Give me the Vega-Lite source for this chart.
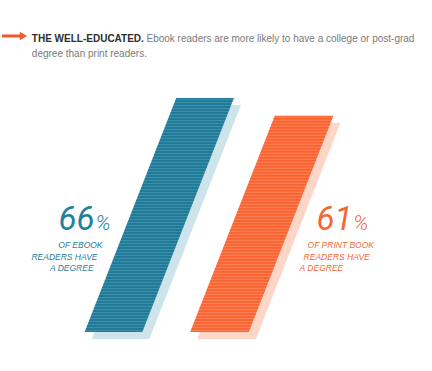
{
  "$schema": "https://vega.github.io/schema/vega-lite/v6.json",
  "width": 432,
  "height": 371,
  "autosize": {"type": "fit", "contains": "padding"},
  "padding": 0,
  "background": "#ffffff",
  "config": {"view": {"stroke": null}},
  "datasets": {
    "bars": [
      {"group": "ebook", "level": 0, "left": 19.21, "right": 32.64},
      {"group": "ebook", "level": 66, "left": 40.51, "right": 53.94},
      {"group": "print", "level": 0, "left": 43.75, "right": 57.41},
      {"group": "print", "level": 61, "left": 63.43, "right": 77.08}
    ],
    "labels": [
      {"role": "headBold", "group": "none", "text": "THE WELL-EDUCATED.", "x": 6.94, "y": 81.8},
      {"role": "head", "group": "none", "text": "Ebook readers are more likely to have a college or post-grad", "x": 33.6, "y": 81.8},
      {"role": "head", "group": "none", "text": "degree than print readers.", "x": 6.94, "y": 77.57},
      {"role": "big", "group": "ebook", "text": "66", "x": 21.53, "y": 28.77},
      {"role": "pct", "group": "ebook", "text": "%", "x": 21.76, "y": 28.77},
      {"role": "big", "group": "print", "text": "61", "x": 81.48, "y": 28.77},
      {"role": "pct", "group": "print", "text": "%", "x": 81.71, "y": 28.77},
      {"role": "smallL", "group": "ebook", "text": "OF EBOOK", "x": 23.38, "y": 23.7},
      {"role": "smallL", "group": "ebook", "text": "READERS HAVE", "x": 22.22, "y": 20.31},
      {"role": "smallL", "group": "ebook", "text": "A DEGREE", "x": 21.3, "y": 17.21},
      {"role": "smallR", "group": "print", "text": "OF PRINT BOOK", "x": 71.06, "y": 23.7},
      {"role": "smallR", "group": "print", "text": "READERS HAVE", "x": 70.14, "y": 20.31},
      {"role": "smallR", "group": "print", "text": "A DEGREE", "x": 69.21, "y": 17.21}
    ],
    "arrow": [{"x": 0, "x2": 4.4, "y": 83.5, "head": 4.98}]
  },
  "layer": [
    {
      "data": {"name": "bars"},
      "transform": [{"filter": "datum.group === 'ebook'"}],
      "mark": {"type": "area", "orient": "horizontal", "color": "#cde4ea", "xOffset": 7, "x2Offset": 7, "yOffset": 7},
      "encoding": {
        "y": {"field": "level", "type": "quantitative", "scale": {"domain": [-11, 93.65], "nice": false, "zero": false}, "axis": null},
        "x": {"field": "left", "type": "quantitative", "scale": {"domain": [0, 100], "nice": false, "zero": false}, "axis": null},
        "x2": {"field": "right"}
      }
    },
    {
      "data": {"name": "bars"},
      "transform": [{"filter": "datum.group === 'print'"}],
      "mark": {"type": "area", "orient": "horizontal", "color": "#fed6c7", "xOffset": 7, "x2Offset": 7, "yOffset": 7},
      "encoding": {
        "y": {"field": "level", "type": "quantitative", "axis": null},
        "x": {"field": "left", "type": "quantitative", "axis": null},
        "x2": {"field": "right"}
      }
    },
    {
      "data": {"name": "bars"},
      "transform": [{"filter": "datum.group === 'ebook'"}],
      "mark": {"type": "area", "orient": "horizontal", "color": {"gradient": "linear", "x1": 0, "y1": 0, "x2": 0, "y2": 1.28205, "stops": [
        {"offset": 0, "color": "#13708f"}, {"offset": 0.005, "color": "#3d90aa"}, {"offset": 0.01, "color": "#13708f"}, {"offset": 0.015, "color": "#3d90aa"}, {"offset": 0.02, "color": "#13708f"}, {"offset": 0.025, "color": "#3d90aa"}, {"offset": 0.03, "color": "#13708f"}, {"offset": 0.035, "color": "#3d90aa"}, {"offset": 0.04, "color": "#13708f"}, {"offset": 0.045, "color": "#3d90aa"},
        {"offset": 0.05, "color": "#13708f"}, {"offset": 0.055, "color": "#3d90aa"}, {"offset": 0.06, "color": "#13708f"}, {"offset": 0.065, "color": "#3d90aa"}, {"offset": 0.07, "color": "#13708f"}, {"offset": 0.075, "color": "#3d90aa"}, {"offset": 0.08, "color": "#13708f"}, {"offset": 0.085, "color": "#3d90aa"}, {"offset": 0.09, "color": "#13708f"}, {"offset": 0.095, "color": "#3d90aa"},
        {"offset": 0.1, "color": "#13708f"}, {"offset": 0.105, "color": "#3d90aa"}, {"offset": 0.11, "color": "#13708f"}, {"offset": 0.115, "color": "#3d90aa"}, {"offset": 0.12, "color": "#13708f"}, {"offset": 0.125, "color": "#3d90aa"}, {"offset": 0.13, "color": "#13708f"}, {"offset": 0.135, "color": "#3d90aa"}, {"offset": 0.14, "color": "#13708f"}, {"offset": 0.145, "color": "#3d90aa"},
        {"offset": 0.15, "color": "#13708f"}, {"offset": 0.155, "color": "#3d90aa"}, {"offset": 0.16, "color": "#13708f"}, {"offset": 0.165, "color": "#3d90aa"}, {"offset": 0.17, "color": "#13708f"}, {"offset": 0.175, "color": "#3d90aa"}, {"offset": 0.18, "color": "#13708f"}, {"offset": 0.185, "color": "#3d90aa"}, {"offset": 0.19, "color": "#13708f"}, {"offset": 0.195, "color": "#3d90aa"},
        {"offset": 0.2, "color": "#13708f"}, {"offset": 0.205, "color": "#3d90aa"}, {"offset": 0.21, "color": "#13708f"}, {"offset": 0.215, "color": "#3d90aa"}, {"offset": 0.22, "color": "#13708f"}, {"offset": 0.225, "color": "#3d90aa"}, {"offset": 0.23, "color": "#13708f"}, {"offset": 0.235, "color": "#3d90aa"}, {"offset": 0.24, "color": "#13708f"}, {"offset": 0.245, "color": "#3d90aa"},
        {"offset": 0.25, "color": "#13708f"}, {"offset": 0.255, "color": "#3d90aa"}, {"offset": 0.26, "color": "#13708f"}, {"offset": 0.265, "color": "#3d90aa"}, {"offset": 0.27, "color": "#13708f"}, {"offset": 0.275, "color": "#3d90aa"}, {"offset": 0.28, "color": "#13708f"}, {"offset": 0.285, "color": "#3d90aa"}, {"offset": 0.29, "color": "#13708f"}, {"offset": 0.295, "color": "#3d90aa"},
        {"offset": 0.3, "color": "#13708f"}, {"offset": 0.305, "color": "#3d90aa"}, {"offset": 0.31, "color": "#13708f"}, {"offset": 0.315, "color": "#3d90aa"}, {"offset": 0.32, "color": "#13708f"}, {"offset": 0.325, "color": "#3d90aa"}, {"offset": 0.33, "color": "#13708f"}, {"offset": 0.335, "color": "#3d90aa"}, {"offset": 0.34, "color": "#13708f"}, {"offset": 0.345, "color": "#3d90aa"},
        {"offset": 0.35, "color": "#13708f"}, {"offset": 0.355, "color": "#3d90aa"}, {"offset": 0.36, "color": "#13708f"}, {"offset": 0.365, "color": "#3d90aa"}, {"offset": 0.37, "color": "#13708f"}, {"offset": 0.375, "color": "#3d90aa"}, {"offset": 0.38, "color": "#13708f"}, {"offset": 0.385, "color": "#3d90aa"}, {"offset": 0.39, "color": "#13708f"}, {"offset": 0.395, "color": "#3d90aa"},
        {"offset": 0.4, "color": "#13708f"}, {"offset": 0.405, "color": "#3d90aa"}, {"offset": 0.41, "color": "#13708f"}, {"offset": 0.415, "color": "#3d90aa"}, {"offset": 0.42, "color": "#13708f"}, {"offset": 0.425, "color": "#3d90aa"}, {"offset": 0.43, "color": "#13708f"}, {"offset": 0.435, "color": "#3d90aa"}, {"offset": 0.44, "color": "#13708f"}, {"offset": 0.445, "color": "#3d90aa"},
        {"offset": 0.45, "color": "#13708f"}, {"offset": 0.455, "color": "#3d90aa"}, {"offset": 0.46, "color": "#13708f"}, {"offset": 0.465, "color": "#3d90aa"}, {"offset": 0.47, "color": "#13708f"}, {"offset": 0.475, "color": "#3d90aa"}, {"offset": 0.48, "color": "#13708f"}, {"offset": 0.485, "color": "#3d90aa"}, {"offset": 0.49, "color": "#13708f"}, {"offset": 0.495, "color": "#3d90aa"},
        {"offset": 0.5, "color": "#13708f"}, {"offset": 0.505, "color": "#3d90aa"}, {"offset": 0.51, "color": "#13708f"}, {"offset": 0.515, "color": "#3d90aa"}, {"offset": 0.52, "color": "#13708f"}, {"offset": 0.525, "color": "#3d90aa"}, {"offset": 0.53, "color": "#13708f"}, {"offset": 0.535, "color": "#3d90aa"}, {"offset": 0.54, "color": "#13708f"}, {"offset": 0.545, "color": "#3d90aa"},
        {"offset": 0.55, "color": "#13708f"}, {"offset": 0.555, "color": "#3d90aa"}, {"offset": 0.56, "color": "#13708f"}, {"offset": 0.565, "color": "#3d90aa"}, {"offset": 0.57, "color": "#13708f"}, {"offset": 0.575, "color": "#3d90aa"}, {"offset": 0.58, "color": "#13708f"}, {"offset": 0.585, "color": "#3d90aa"}, {"offset": 0.59, "color": "#13708f"}, {"offset": 0.595, "color": "#3d90aa"},
        {"offset": 0.6, "color": "#13708f"}, {"offset": 0.605, "color": "#3d90aa"}, {"offset": 0.61, "color": "#13708f"}, {"offset": 0.615, "color": "#3d90aa"}, {"offset": 0.62, "color": "#13708f"}, {"offset": 0.625, "color": "#3d90aa"}, {"offset": 0.63, "color": "#13708f"}, {"offset": 0.635, "color": "#3d90aa"}, {"offset": 0.64, "color": "#13708f"}, {"offset": 0.645, "color": "#3d90aa"},
        {"offset": 0.65, "color": "#13708f"}, {"offset": 0.655, "color": "#3d90aa"}, {"offset": 0.66, "color": "#13708f"}, {"offset": 0.665, "color": "#3d90aa"}, {"offset": 0.67, "color": "#13708f"}, {"offset": 0.675, "color": "#3d90aa"}, {"offset": 0.68, "color": "#13708f"}, {"offset": 0.685, "color": "#3d90aa"}, {"offset": 0.69, "color": "#13708f"}, {"offset": 0.695, "color": "#3d90aa"},
        {"offset": 0.7, "color": "#13708f"}, {"offset": 0.705, "color": "#3d90aa"}, {"offset": 0.71, "color": "#13708f"}, {"offset": 0.715, "color": "#3d90aa"}, {"offset": 0.72, "color": "#13708f"}, {"offset": 0.725, "color": "#3d90aa"}, {"offset": 0.73, "color": "#13708f"}, {"offset": 0.735, "color": "#3d90aa"}, {"offset": 0.74, "color": "#13708f"}, {"offset": 0.745, "color": "#3d90aa"},
        {"offset": 0.75, "color": "#13708f"}, {"offset": 0.755, "color": "#3d90aa"}, {"offset": 0.76, "color": "#13708f"}, {"offset": 0.765, "color": "#3d90aa"}, {"offset": 0.77, "color": "#13708f"}, {"offset": 0.775, "color": "#3d90aa"}, {"offset": 0.78, "color": "#13708f"}
      ]}},
      "encoding": {
        "y": {"field": "level", "type": "quantitative", "axis": null},
        "x": {"field": "left", "type": "quantitative", "axis": null},
        "x2": {"field": "right"}
      }
    },
    {
      "data": {"name": "bars"},
      "transform": [{"filter": "datum.group === 'print'"}],
      "mark": {"type": "area", "orient": "horizontal", "color": {"gradient": "linear", "x1": 0, "y1": 0, "x2": 0, "y2": 1.38889, "stops": [
        {"offset": 0, "color": "#f85a24"}, {"offset": 0.005, "color": "#fc8056"}, {"offset": 0.01, "color": "#f85a24"}, {"offset": 0.015, "color": "#fc8056"}, {"offset": 0.02, "color": "#f85a24"}, {"offset": 0.025, "color": "#fc8056"}, {"offset": 0.03, "color": "#f85a24"}, {"offset": 0.035, "color": "#fc8056"}, {"offset": 0.04, "color": "#f85a24"}, {"offset": 0.045, "color": "#fc8056"},
        {"offset": 0.05, "color": "#f85a24"}, {"offset": 0.055, "color": "#fc8056"}, {"offset": 0.06, "color": "#f85a24"}, {"offset": 0.065, "color": "#fc8056"}, {"offset": 0.07, "color": "#f85a24"}, {"offset": 0.075, "color": "#fc8056"}, {"offset": 0.08, "color": "#f85a24"}, {"offset": 0.085, "color": "#fc8056"}, {"offset": 0.09, "color": "#f85a24"}, {"offset": 0.095, "color": "#fc8056"},
        {"offset": 0.1, "color": "#f85a24"}, {"offset": 0.105, "color": "#fc8056"}, {"offset": 0.11, "color": "#f85a24"}, {"offset": 0.115, "color": "#fc8056"}, {"offset": 0.12, "color": "#f85a24"}, {"offset": 0.125, "color": "#fc8056"}, {"offset": 0.13, "color": "#f85a24"}, {"offset": 0.135, "color": "#fc8056"}, {"offset": 0.14, "color": "#f85a24"}, {"offset": 0.145, "color": "#fc8056"},
        {"offset": 0.15, "color": "#f85a24"}, {"offset": 0.155, "color": "#fc8056"}, {"offset": 0.16, "color": "#f85a24"}, {"offset": 0.165, "color": "#fc8056"}, {"offset": 0.17, "color": "#f85a24"}, {"offset": 0.175, "color": "#fc8056"}, {"offset": 0.18, "color": "#f85a24"}, {"offset": 0.185, "color": "#fc8056"}, {"offset": 0.19, "color": "#f85a24"}, {"offset": 0.195, "color": "#fc8056"},
        {"offset": 0.2, "color": "#f85a24"}, {"offset": 0.205, "color": "#fc8056"}, {"offset": 0.21, "color": "#f85a24"}, {"offset": 0.215, "color": "#fc8056"}, {"offset": 0.22, "color": "#f85a24"}, {"offset": 0.225, "color": "#fc8056"}, {"offset": 0.23, "color": "#f85a24"}, {"offset": 0.235, "color": "#fc8056"}, {"offset": 0.24, "color": "#f85a24"}, {"offset": 0.245, "color": "#fc8056"},
        {"offset": 0.25, "color": "#f85a24"}, {"offset": 0.255, "color": "#fc8056"}, {"offset": 0.26, "color": "#f85a24"}, {"offset": 0.265, "color": "#fc8056"}, {"offset": 0.27, "color": "#f85a24"}, {"offset": 0.275, "color": "#fc8056"}, {"offset": 0.28, "color": "#f85a24"}, {"offset": 0.285, "color": "#fc8056"}, {"offset": 0.29, "color": "#f85a24"}, {"offset": 0.295, "color": "#fc8056"},
        {"offset": 0.3, "color": "#f85a24"}, {"offset": 0.305, "color": "#fc8056"}, {"offset": 0.31, "color": "#f85a24"}, {"offset": 0.315, "color": "#fc8056"}, {"offset": 0.32, "color": "#f85a24"}, {"offset": 0.325, "color": "#fc8056"}, {"offset": 0.33, "color": "#f85a24"}, {"offset": 0.335, "color": "#fc8056"}, {"offset": 0.34, "color": "#f85a24"}, {"offset": 0.345, "color": "#fc8056"},
        {"offset": 0.35, "color": "#f85a24"}, {"offset": 0.355, "color": "#fc8056"}, {"offset": 0.36, "color": "#f85a24"}, {"offset": 0.365, "color": "#fc8056"}, {"offset": 0.37, "color": "#f85a24"}, {"offset": 0.375, "color": "#fc8056"}, {"offset": 0.38, "color": "#f85a24"}, {"offset": 0.385, "color": "#fc8056"}, {"offset": 0.39, "color": "#f85a24"}, {"offset": 0.395, "color": "#fc8056"},
        {"offset": 0.4, "color": "#f85a24"}, {"offset": 0.405, "color": "#fc8056"}, {"offset": 0.41, "color": "#f85a24"}, {"offset": 0.415, "color": "#fc8056"}, {"offset": 0.42, "color": "#f85a24"}, {"offset": 0.425, "color": "#fc8056"}, {"offset": 0.43, "color": "#f85a24"}, {"offset": 0.435, "color": "#fc8056"}, {"offset": 0.44, "color": "#f85a24"}, {"offset": 0.445, "color": "#fc8056"},
        {"offset": 0.45, "color": "#f85a24"}, {"offset": 0.455, "color": "#fc8056"}, {"offset": 0.46, "color": "#f85a24"}, {"offset": 0.465, "color": "#fc8056"}, {"offset": 0.47, "color": "#f85a24"}, {"offset": 0.475, "color": "#fc8056"}, {"offset": 0.48, "color": "#f85a24"}, {"offset": 0.485, "color": "#fc8056"}, {"offset": 0.49, "color": "#f85a24"}, {"offset": 0.495, "color": "#fc8056"},
        {"offset": 0.5, "color": "#f85a24"}, {"offset": 0.505, "color": "#fc8056"}, {"offset": 0.51, "color": "#f85a24"}, {"offset": 0.515, "color": "#fc8056"}, {"offset": 0.52, "color": "#f85a24"}, {"offset": 0.525, "color": "#fc8056"}, {"offset": 0.53, "color": "#f85a24"}, {"offset": 0.535, "color": "#fc8056"}, {"offset": 0.54, "color": "#f85a24"}, {"offset": 0.545, "color": "#fc8056"},
        {"offset": 0.55, "color": "#f85a24"}, {"offset": 0.555, "color": "#fc8056"}, {"offset": 0.56, "color": "#f85a24"}, {"offset": 0.565, "color": "#fc8056"}, {"offset": 0.57, "color": "#f85a24"}, {"offset": 0.575, "color": "#fc8056"}, {"offset": 0.58, "color": "#f85a24"}, {"offset": 0.585, "color": "#fc8056"}, {"offset": 0.59, "color": "#f85a24"}, {"offset": 0.595, "color": "#fc8056"},
        {"offset": 0.6, "color": "#f85a24"}, {"offset": 0.605, "color": "#fc8056"}, {"offset": 0.61, "color": "#f85a24"}, {"offset": 0.615, "color": "#fc8056"}, {"offset": 0.62, "color": "#f85a24"}, {"offset": 0.625, "color": "#fc8056"}, {"offset": 0.63, "color": "#f85a24"}, {"offset": 0.635, "color": "#fc8056"}, {"offset": 0.64, "color": "#f85a24"}, {"offset": 0.645, "color": "#fc8056"},
        {"offset": 0.65, "color": "#f85a24"}, {"offset": 0.655, "color": "#fc8056"}, {"offset": 0.66, "color": "#f85a24"}, {"offset": 0.665, "color": "#fc8056"}, {"offset": 0.67, "color": "#f85a24"}, {"offset": 0.675, "color": "#fc8056"}, {"offset": 0.68, "color": "#f85a24"}, {"offset": 0.685, "color": "#fc8056"}, {"offset": 0.69, "color": "#f85a24"}, {"offset": 0.695, "color": "#fc8056"},
        {"offset": 0.7, "color": "#f85a24"}, {"offset": 0.705, "color": "#fc8056"}, {"offset": 0.71, "color": "#f85a24"}, {"offset": 0.715, "color": "#fc8056"}, {"offset": 0.72, "color": "#f85a24"}
      ]}},
      "encoding": {
        "y": {"field": "level", "type": "quantitative", "axis": null},
        "x": {"field": "left", "type": "quantitative", "axis": null},
        "x2": {"field": "right"}
      }
    },
    {
      "data": {"name": "arrow"},
      "mark": {"type": "rule", "color": "#f05a28", "strokeWidth": 3},
      "encoding": {
        "y": {"field": "y", "type": "quantitative", "axis": null},
        "x": {"field": "x", "type": "quantitative", "axis": null},
        "x2": {"field": "x2"}
      }
    },
    {
      "data": {"name": "arrow"},
      "mark": {"type": "point", "shape": "triangle-right", "filled": true, "color": "#f05a28", "size": 70, "opacity": 1},
      "encoding": {
        "y": {"field": "y", "type": "quantitative", "axis": null},
        "x": {"field": "head", "type": "quantitative", "axis": null}
      }
    },
    {
      "data": {"name": "labels"},
      "transform": [{"filter": "datum.role === 'headBold'"}],
      "mark": {"type": "text", "align": "left", "baseline": "alphabetic", "font": "Liberation Sans", "fontWeight": "bold", "fontSize": 10, "color": "#2e2e2e"},
      "encoding": {
        "y": {"field": "y", "type": "quantitative", "axis": null},
        "x": {"field": "x", "type": "quantitative", "axis": null},
        "text": {"field": "text"}
      }
    },
    {
      "data": {"name": "labels"},
      "transform": [{"filter": "datum.role === 'head'"}],
      "mark": {"type": "text", "align": "left", "baseline": "alphabetic", "font": "Liberation Sans", "fontSize": 10, "color": "#7a7a7a"},
      "encoding": {
        "y": {"field": "y", "type": "quantitative", "axis": null},
        "x": {"field": "x", "type": "quantitative", "axis": null},
        "text": {"field": "text"}
      }
    },
    {
      "data": {"name": "labels"},
      "transform": [{"filter": "datum.role === 'big'"}],
      "mark": {"type": "text", "align": "right", "baseline": "alphabetic", "font": "Roboto", "fontStyle": "italic", "fontWeight": "normal", "fontSize": 33},
      "encoding": {
        "y": {"field": "y", "type": "quantitative", "axis": null},
        "x": {"field": "x", "type": "quantitative", "axis": null},
        "text": {"field": "text"},
        "color": {"field": "group", "type": "nominal", "scale": {"domain": ["ebook", "print"], "range": ["#23809c", "#f26736"]}, "legend": null}
      }
    },
    {
      "data": {"name": "labels"},
      "transform": [{"filter": "datum.role === 'pct'"}],
      "mark": {"type": "text", "align": "left", "baseline": "alphabetic", "font": "Roboto", "fontStyle": "italic", "fontWeight": 300, "fontSize": 21},
      "encoding": {
        "y": {"field": "y", "type": "quantitative", "axis": null},
        "x": {"field": "x", "type": "quantitative", "axis": null},
        "text": {"field": "text"},
        "color": {"field": "group", "type": "nominal", "legend": null}
      }
    },
    {
      "data": {"name": "labels"},
      "transform": [{"filter": "datum.role === 'smallL'"}],
      "mark": {"type": "text", "align": "right", "baseline": "alphabetic", "font": "Liberation Sans", "fontStyle": "italic", "fontSize": 8.5},
      "encoding": {
        "y": {"field": "y", "type": "quantitative", "axis": null},
        "x": {"field": "x", "type": "quantitative", "axis": null},
        "text": {"field": "text"},
        "color": {"field": "group", "type": "nominal", "legend": null}
      }
    },
    {
      "data": {"name": "labels"},
      "transform": [{"filter": "datum.role === 'smallR'"}],
      "mark": {"type": "text", "align": "left", "baseline": "alphabetic", "font": "Liberation Sans", "fontStyle": "italic", "fontSize": 8.5},
      "encoding": {
        "y": {"field": "y", "type": "quantitative", "axis": null},
        "x": {"field": "x", "type": "quantitative", "axis": null},
        "text": {"field": "text"},
        "color": {"field": "group", "type": "nominal", "legend": null}
      }
    }
  ]
}
